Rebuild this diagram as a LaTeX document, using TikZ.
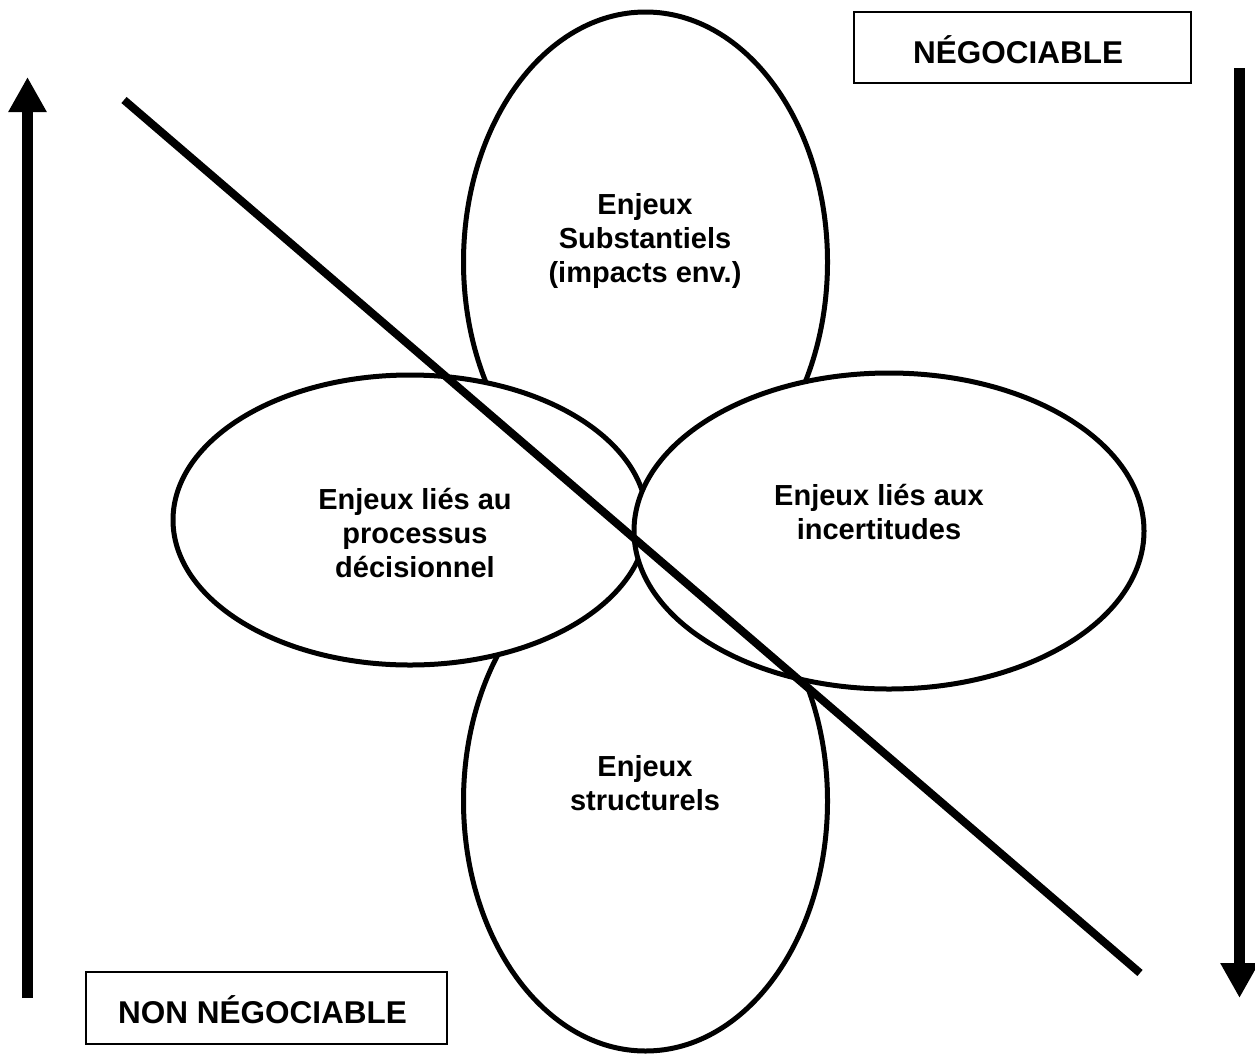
\documentclass[tikz,border=0pt]{standalone}
\usepackage{fontspec}
\setmainfont{Liberation Sans}
\usetikzlibrary{shapes.geometric,arrows.meta}
\begin{document}
\begin{tikzpicture}[x=1pt,y=-1pt,
  petal/.style={ellipse,draw,fill=white,line width=5pt,inner sep=0pt},
  petaltext/.style={align=center,font=\fontsize{29pt}{34pt}\selectfont\bfseries,inner sep=0pt},
  labelbox/.style={draw,line width=2pt,inner sep=0pt},
  labeltext/.style={inner sep=0pt,font=\fontsize{31.5pt}{38pt}\selectfont\bfseries},
  bigarrow/.style={line width=11pt,-{Triangle[length=35pt,width=36pt]}},
  divider/.style={line width=8pt}]
\useasboundingbox (0,0) rectangle (1255,1055);
% petals
\node[petal,minimum width=364pt,minimum height=500pt] (top) at (645.5,262) {};
\node[petal,minimum width=364pt,minimum height=500pt] (bottom) at (645.5,801) {};
\node[petal,minimum width=474pt,minimum height=290pt] (left) at (410,520) {};
\node[petal,minimum width=510pt,minimum height=316pt] (right) at (889,531) {};
% texts
\node[petaltext] (ttop) at (645,241) {Enjeux\\Substantiels\\(impacts env.)};
\node[petaltext] (tleft) at (415,533) {Enjeux liés au\\processus\\décisionnel};
\node[petaltext] (tright) at (879,512) {Enjeux liés aux\\incertitudes};
\node[petaltext] (tbottom) at (645,783) {Enjeux\\structurels};
% boxes
\node[labelbox,minimum width=337pt,minimum height=71pt] (neg) at (1022.5,47.5) {};
\node[labeltext] (negt) at (1018,50) {NÉGOCIABLE};
\node[labelbox,minimum width=361pt,minimum height=72pt] (nonneg) at (266.5,1008) {};
\node[labeltext] (nonnegt) at (262.5,1010) {NON NÉGOCIABLE};
% diagonal line
\coordinate (d1) at (124,100);
\coordinate (d2) at (1140,973);
\draw[divider] (d1) -- (d2);
% arrows
\coordinate (la1) at (27.5,998);
\coordinate (la2) at (27.5,77);
\coordinate (ra1) at (1239.5,68);
\coordinate (ra2) at (1239.5,998);
\draw[bigarrow] (la1) -- (la2);
\draw[bigarrow] (ra1) -- (ra2);
\end{tikzpicture}
\end{document}
